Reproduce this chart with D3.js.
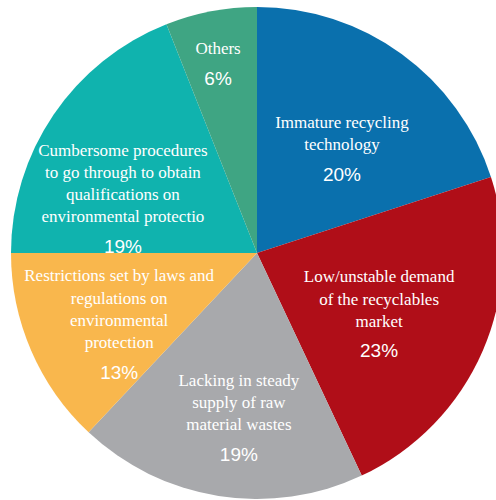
<!DOCTYPE html>
<html>
<head>
<meta charset="utf-8">
<script src="https://cdn.jsdelivr.net/npm/d3@7"></script>
<style>
  html, body { margin: 0; padding: 0; background: #ffffff; }
  svg { display: block; }
  .cat { font-family: "Liberation Serif", "Times New Roman", Tinos, serif; font-size: 17px; }
  .pct { font-family: "Liberation Sans", Arial, Arimo, sans-serif; font-size: 19px; }
</style>
</head>
<body>
<svg id="chart" width="496" height="500"></svg>
<script>
// Reasons holding back recycling, share of responses (%)
const categories = [
  "Immature recycling technology",
  "Low/unstable demand of the recyclables market",
  "Lacking in steady supply of raw material wastes",
  "Restrictions set by laws and regulations on environmental protection",
  "Cumbersome procedures to go through to obtain qualifications on environmental protectio",
  "Others"
];
const shares = [20, 23, 19, 13, 19, 6];
const shareLabels = ["20%", "23%", "19%", "13%", "19%", "6%"];
const labelLines = [
  ["Immature recycling", "technology"],
  ["Low/unstable demand", "of the recyclables", "market"],
  ["Lacking in steady", "supply of raw", "material wastes"],
  ["Restrictions set by laws and", "regulations on", "environmental", "protection"],
  ["Cumbersome procedures", "to go through to obtain", "qualifications on", "environmental protectio"],
  ["Others"]
];

// Styling and layout
const sliceColors = ["#0a70ad", "#b00e18", "#a8a9ac", "#f9b74d", "#10b3ae", "#3fa583"];
const cx = 257, cy = 253, R = 246;
// label block placement: radius as fraction of R, and angular nudge in degrees
const labelPlacement = [
  { r: 0.549, turn: 3.0 },
  { r: 0.554, turn: 3.0 },
  { r: 0.671, turn: -2.7 },
  { r: 0.630, turn: -3.8 },
  { r: 0.589, turn: -11.9 },
  { r: 0.787, turn: -0.8 }
];
const lineGap = 22.3;
const pctGap = 29;

const svg = d3.select("#chart");
const g = svg.append("g").attr("transform", `translate(${cx},${cy})`);

const pie = d3.pie().sort(null).value(d => d.value);
const data = categories.map((c, i) => ({ name: c, value: shares[i], idx: i }));
const arcs = pie(data);
const arc = d3.arc().innerRadius(0).outerRadius(R);

g.selectAll("path.slice")
  .data(arcs)
  .join("path")
  .attr("class", "slice")
  .attr("d", arc)
  .attr("fill", d => sliceColors[d.data.idx]);

// labels
const labels = g.selectAll("g.label")
  .data(arcs)
  .join("g")
  .attr("class", "label")
  .attr("transform", d => {
    const p = labelPlacement[d.data.idx];
    const mid = (d.startAngle + d.endAngle) / 2 + p.turn * Math.PI / 180;
    const rr = p.r * R;
    const [x, y] = d3.arc().innerRadius(rr).outerRadius(rr)
      .centroid({ startAngle: mid, endAngle: mid });
    return `translate(${x},${y})`;
  });

labels.each(function(d) {
  const lines = labelLines[d.data.idx];
  const n = lines.length;
  const blockH = (n - 1) * lineGap + pctGap;
  const top = -blockH / 2;
  const sel = d3.select(this);
  lines.forEach((t, k) => {
    sel.append("text")
      .attr("class", "cat")
      .attr("x", 0)
      .attr("y", top + k * lineGap)
      .attr("dy", "0.32em")
      .attr("text-anchor", "middle")
      .attr("fill", "#ffffff")
      .text(t);
  });
  sel.append("text")
    .attr("class", "pct")
    .attr("x", 0)
    .attr("y", top + (n - 1) * lineGap + pctGap)
    .attr("dy", "0.36em")
    .attr("text-anchor", "middle")
    .attr("fill", "#ffffff")
    .text(shareLabels[d.data.idx]);
});
</script>
</body>
</html>
